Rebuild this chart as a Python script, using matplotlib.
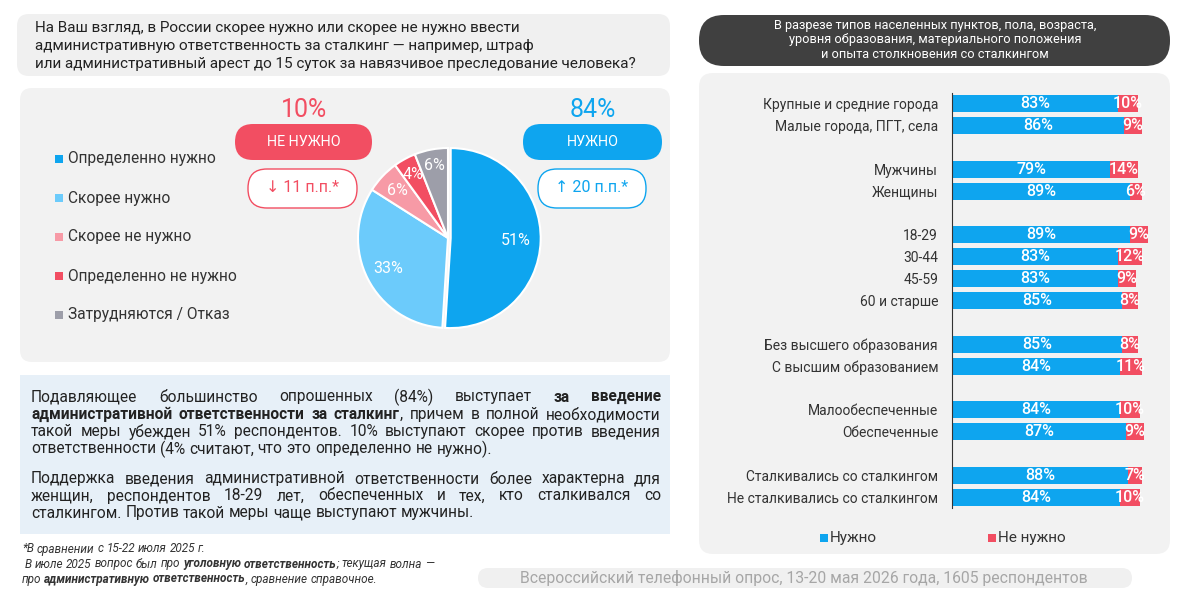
import matplotlib.pyplot as plt
from matplotlib.patches import FancyBboxPatch, Rectangle
import numpy as np

plt.rcParams['font.family'] = ['Roboto', 'DejaVu Sans']

# ---- data ----
pie_labels = ['Определенно нужно', 'Скорее нужно', 'Скорее не нужно',
              'Определенно не нужно', 'Затрудняются / Отказ']
pie_values = [51, 33, 6, 4, 6]
pie_colors = ['#0ea5ef', '#6ccbfb', '#f79aa6', '#f24e62', '#9d9ea9']

need_total = 84
not_need_total = 10
need_change = 20
not_need_change = 11

categories = ['Крупные и средние города', 'Малые города, ПГТ, села',
              'Мужчины', 'Женщины',
              '18-29', '30-44', '45-59', '60 и старше',
              'Без высшего образования', 'С высшим образованием',
              'Малообеспеченные', 'Обеспеченные',
              'Сталкивались со сталкингом', 'Не сталкивались со сталкингом']
group_sizes = [2, 2, 4, 2, 2, 2]
need_vals = [83, 86, 79, 89, 89, 83, 83, 85, 85, 84, 84, 87, 88, 84]
not_need_vals = [10, 9, 14, 6, 9, 12, 9, 8, 8, 11, 10, 9, 7, 10]

question = ['На Ваш взгляд, в России скорее нужно или скорее не нужно ввести',
            'административную ответственность за сталкинг — например, штраф',
            'или административный арест до 15 суток за навязчивое преследование человека?']
header = ['В разрезе типов населенных пунктов, пола, возраста,',
          'уровня образования, материального положения',
          'и опыта столкновения со сталкингом']
para1 = ['Подавляющее большинство опрошенных (84%) выступает **за введение**',
         '**административной ответственности за сталкинг**, причем в полной необходимости',
         'такой меры убежден 51% респондентов. 10% выступают скорее против введения',
         'ответственности (4% считают, что это определенно не нужно).']
para2 = ['Поддержка введения административной ответственности более характерна для',
         'женщин, респондентов 18-29 лет, обеспеченных и тех, кто сталкивался со',
         'сталкингом. Против такой меры чаще выступают мужчины.']
notes = ['*В сравнении с 15-22 июля 2025 г.',
         ' В июле 2025 вопрос был про **уголовную ответственность**; текущая волна —',
         'про **административную ответственность**, сравнение справочное.']
source = 'Всероссийский телефонный опрос, 13-20 мая 2026 года, 1605 респондентов'

BLUE = '#0ea5ef'
RED = '#f24e62'
TXT = '#333333'

fig = plt.figure(figsize=(12, 5.94), dpi=100)
bg = fig.add_axes([0, 0, 1, 1])
bg.set_xlim(0, 1200)
bg.set_ylim(594, 0)
bg.axis('off')
renderer = fig.canvas.get_renderer()


def rbox(x0, y0, x1, y1, r, fc, ec='none', lw=0):
    p = FancyBboxPatch((x0 + r, y0 + r), x1 - x0 - 2 * r, y1 - y0 - 2 * r,
                       boxstyle='round,pad=%s' % r, fc=fc, ec=ec, lw=lw)
    bg.add_patch(p)


def parse(line):
    words = []
    bold = False
    for raw in line.split(' '):
        segs = []
        for k, part in enumerate(raw.split('**')):
            if k > 0:
                bold = not bold
            if part:
                segs.append((part, 'bold' if bold else 'normal'))
        words.append(segs)
    return words


def width_of(s, **kw):
    t = bg.text(0, 0, s, **kw)
    w = t.get_window_extent(renderer).width
    t.remove()
    return w


def draw_line(line, x0, y, x1=None, **kw):
    words = parse(line)
    space = width_of('н н', **kw) - width_of('нн', **kw)
    placed = []
    for segs in words:
        ws = []
        for s, wt in segs:
            t = bg.text(0, y, s, ha='left', va='center', fontweight=wt, **kw)
            ws.append((t, t.get_window_extent(renderer).width))
        placed.append(ws)
    total = sum(w for ws in placed for _, w in ws)
    gap = space
    if x1 is not None and len(placed) > 1:
        gap = (x1 - x0 - total) / (len(placed) - 1)
    x = x0
    for ws in placed:
        for t, w in ws:
            t.set_x(x)
            x += w
        x += gap


# ---- backgrounds ----
rbox(17, 14, 670, 76, 12, '#f0f0f0')
rbox(20, 88, 670, 362, 12, '#f2f2f2')
rbox(20, 375, 670, 534, 0, '#e7f0f8')
rbox(699, 15, 1170, 66, 25, '#404040')
rbox(699, 73, 1170, 554, 14, '#f2f2f2')
rbox(478, 568, 1132, 588, 10, '#f0f0f0')

# ---- question ----
for i, line in enumerate(question):
    bg.text(35, 28 + 18 * i, line, ha='left', va='center', fontsize=10.95, color='#222222')

# ---- pie legend ----
for i, (lab, col) in enumerate(zip(pie_labels, pie_colors)):
    y = 159 + 39 * i
    bg.add_patch(Rectangle((55, y - 4), 8, 8, fc=col, ec='none'))
    bg.text(68, y, lab, ha='left', va='center', fontsize=11.2, color=TXT)

# ---- totals ----
bg.text(304, 110, '%d%%' % not_need_total, ha='center', va='center', fontsize=18, color=RED)
rbox(235, 124, 372, 160, 18, RED)
bg.text(304, 142, 'НЕ НУЖНО', ha='center', va='center', fontsize=10.3, color='white')
rbox(248, 169, 357, 208, 19, 'white', RED, 1)
bg.text(303, 188, '↓ %d п.п.*' % not_need_change, ha='center', va='center',
        fontsize=11.5, color=RED, family=['Roboto', 'DejaVu Sans'])

bg.text(593, 110, '%d%%' % need_total, ha='center', va='center', fontsize=18, color=BLUE)
rbox(523, 124, 662, 160, 18, BLUE)
bg.text(593, 142, 'НУЖНО', ha='center', va='center', fontsize=10.3, color='white')
rbox(538, 169, 646, 208, 19, 'white', BLUE, 1)
bg.text(592, 188, '↑ %d п.п.*' % need_change, ha='center', va='center',
        fontsize=11.5, color=BLUE, family=['Roboto', 'DejaVu Sans'])

# ---- pie ----
cx, cy, R = 448, 238, 90
ax_pie = fig.add_axes([(cx - 100) / 1200, (594 - cy - 100) / 594, 200 / 1200, 200 / 594])
explode = [0.03, 0, 0, 0, 0]
wedges, _ = ax_pie.pie(pie_values, colors=pie_colors, startangle=90, counterclock=False,
                       explode=explode, wedgeprops=dict(edgecolor='white', linewidth=1.5))
ax_pie.set_xlim(-100 / R, 100 / R)
ax_pie.set_ylim(-100 / R, 100 / R)
label_dist = [0.72, 0.74, 0.77, 0.8, 0.82]
for w, v, d, e in zip(wedges, pie_values, label_dist, explode):
    a = np.deg2rad((w.theta1 + w.theta2) / 2)
    ax_pie.text((d + e) * np.cos(a), (d + e) * np.sin(a), '%d%%' % v,
                ha='center', va='center', fontsize=11.5, color='white')

# ---- text block ----
for i, line in enumerate(para1):
    last = i == len(para1) - 1
    draw_line(line, 31, 397 + 17.3 * i, None if last else 661, fontsize=11.2, color='#222222')
for i, line in enumerate(para2):
    last = i == len(para2) - 1
    draw_line(line, 31, 479 + 17 * i, None if last else 661, fontsize=11.2, color='#222222')

# ---- footnotes ----
for i, line in enumerate(notes):
    draw_line(line, 22, 549 + 15 * i, None, fontsize=8.5, color=TXT, style='italic')

bg.text(804, 578, source, ha='center', va='center', fontsize=11.3, color='#a6a6a6')

# ---- header ----
for i, line in enumerate(header):
    bg.text(935, 26 + 14 * i, line, ha='center', va='center', fontsize=9.2, color='white')

# ---- bars ----
ax_bar = fig.add_axes([952 / 1200, (594 - 508) / 594, 218 / 1200, 415 / 594])
ypos = []
row = 0
for size in group_sizes:
    for _ in range(size):
        ypos.append(row)
        row += 1
    row += 1
ax_bar.barh(ypos, need_vals, height=0.78, color=BLUE)
ax_bar.barh(ypos, not_need_vals, left=need_vals, height=0.78, color=RED)
for y, n, nn in zip(ypos, need_vals, not_need_vals):
    ax_bar.text(n / 2, y, '%d%%' % n, ha='center', va='center', fontsize=11.5,
                color='white', fontweight='medium')
    ax_bar.text(n + nn / 2, y, '%d%%' % nn, ha='center', va='center', fontsize=11.5,
                color='white', fontweight='medium')
ax_bar.set_xlim(0, 109)
ax_bar.set_ylim(18.5, -0.5)
ax_bar.set_yticks(ypos, categories)
ax_bar.set_xticks([])
ax_bar.tick_params(axis='y', length=0, pad=10, labelsize=10, labelcolor=TXT)
for s in ['top', 'right', 'bottom']:
    ax_bar.spines[s].set_visible(False)
ax_bar.spines['left'].set_color(TXT)
ax_bar.patch.set_alpha(0)

# bar legend
bg.add_patch(Rectangle((820, 534), 8, 8, fc=BLUE, ec='none'))
bg.text(830, 538, 'Нужно', ha='left', va='center', fontsize=11, color=TXT)
bg.add_patch(Rectangle((988, 534), 8, 8, fc=RED, ec='none'))
bg.text(998, 538, 'Не нужно', ha='left', va='center', fontsize=11, color=TXT)

fig.savefig('out.png', dpi=100)
